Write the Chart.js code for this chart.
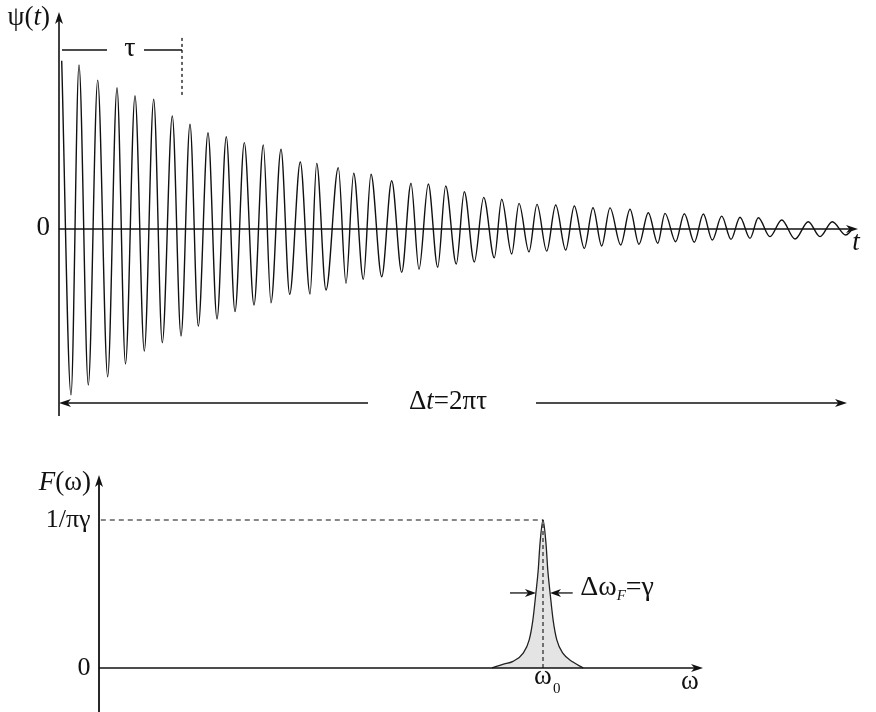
<!DOCTYPE html>
<html>
<head>
<meta charset="utf-8">
<title>Damped oscillation and its spectral line</title>
<script src="https://cdn.jsdelivr.net/npm/chart.js@4.4.1/dist/chart.umd.min.js"></script>
<style>
  html, body { margin: 0; padding: 0; background: #fff; }
  #wrap { position: relative; width: 876px; height: 712px; }
  canvas { position: absolute; left: 0; }
  #wave { top: 0; }
  #spectrum { top: 440px; }
</style>
</head>
<body>
<div id="wrap">
  <canvas id="wave" width="876" height="440"></canvas>
  <canvas id="spectrum" width="876" height="272"></canvas>
</div>
<script>
// psi(t): turning points of the damped oscillation, max / min in turn
const waveT = [
  0.17, 1.10, 1.90, 2.83, 3.77, 4.77, 5.70, 6.55,
  7.50, 8.43, 9.37, 10.23, 11.23, 12.10, 13.00, 13.83,
  14.80, 15.70, 16.63, 17.50, 18.43, 19.40, 20.33, 21.10,
  22.10, 22.97, 24.03, 25.00, 25.67, 26.60, 27.83, 28.60,
  29.37, 30.33, 31.10, 32.17, 33.17, 34.17, 35.10, 35.90,
  36.83, 37.77, 38.57, 39.63, 40.43, 41.43, 42.37, 43.43,
  44.17, 45.17, 45.90, 46.90, 47.70, 48.67, 49.57, 50.57,
  51.43, 52.43, 53.30, 54.17, 55.00, 56.07, 57.00, 57.90,
  58.83, 59.77, 60.50, 61.57, 62.43, 63.43, 64.33, 65.23,
  66.17, 67.10, 68.00, 69.00, 69.83, 71.00, 72.17, 73.50,
  74.83, 76.00, 77.23, 78.57, 79.10
];
const wavePsi = [
  0.990, -0.976, 0.965, -0.918, 0.876, -0.869, 0.831, -0.794,
  0.784, -0.718, 0.763, -0.669, 0.665, -0.629, 0.616, -0.571,
  0.566, -0.529, 0.543, -0.486, 0.508, -0.447, 0.494, -0.434,
  0.469, -0.384, 0.394, -0.382, 0.386, -0.359, 0.361, -0.319,
  0.328, -0.296, 0.322, -0.281, 0.284, -0.255, 0.269, -0.237,
  0.265, -0.225, 0.253, -0.206, 0.219, -0.194, 0.186, -0.169,
  0.175, -0.147, 0.151, -0.134, 0.145, -0.130, 0.141, -0.124,
  0.135, -0.114, 0.125, -0.100, 0.124, -0.094, 0.116, -0.090,
  0.096, -0.084, 0.092, -0.075, 0.090, -0.078, 0.088, -0.065,
  0.076, -0.061, 0.069, -0.055, 0.066, -0.045, 0.053, -0.059,
  0.043, -0.045, 0.043, -0.035, -0.012
];

// F(omega): the spectral line around omega0
const lineOmega = [65.5, 67.3, 69.0, 70.7, 71.7, 72.3, 72.8, 73.2, 73.5, 74.0,
                   74.5, 74.8, 75.2, 75.7, 76.3, 77.3, 79.0, 80.7];
const lineF = [0, 0.025, 0.045, 0.10, 0.19, 0.32, 0.50, 0.66, 0.84, 1.0,
               0.84, 0.66, 0.50, 0.32, 0.19, 0.10, 0.04, 0];
const omega0 = 74.0;

// labels on the vertical axes
const waveTickValues = [0];
const waveTickLabels = ['0'];
const specTickValues = [0, 1];
const specTickLabels = ['0', '1/πγ'];

const serif = '"Liberation Serif", "Times New Roman", serif';
const ink = '#111';

function arrowHead(ctx, x, y, angle, len, half) {
  ctx.save();
  ctx.translate(x, y);
  ctx.rotate(angle);
  ctx.beginPath();
  ctx.moveTo(0, 0);
  ctx.lineTo(-len, -half);
  ctx.lineTo(-len * 0.72, 0);
  ctx.lineTo(-len, half);
  ctx.closePath();
  ctx.fill();
  ctx.restore();
}

function segment(ctx, x1, y1, x2, y2) {
  ctx.beginPath();
  ctx.moveTo(x1, y1);
  ctx.lineTo(x2, y2);
  ctx.stroke();
}

// text made of pieces: {s, italic, size, dy}
function runs(ctx, parts, x, y, align, size) {
  const fontOf = p => (p.italic ? 'italic ' : '') + (p.size || size) + 'px ' + serif;
  let total = 0;
  parts.forEach(p => { ctx.font = fontOf(p); total += ctx.measureText(p.s).width; });
  let cx = align === 'right' ? x - total : align === 'center' ? x - total / 2 : x;
  ctx.textAlign = 'left';
  ctx.textBaseline = 'middle';
  parts.forEach(p => {
    ctx.font = fontOf(p);
    ctx.fillText(p.s, cx, y + (p.dy || 0));
    cx += ctx.measureText(p.s).width;
  });
}

const waveDecor = {
  id: 'waveDecor',
  afterDatasetsDraw(chart) {
    const { ctx, scales: { x, y } } = chart;
    const px = v => x.getPixelForValue(v);
    const py = v => y.getPixelForValue(v);
    ctx.save();
    ctx.strokeStyle = ink;
    ctx.fillStyle = ink;

    // axes
    ctx.lineWidth = 1.6;
    segment(ctx, px(-0.1), py(-1.1), px(-0.1), py(1.23));
    arrowHead(ctx, px(-0.1), py(1.276), -Math.PI / 2, 12, 4);
    ctx.lineWidth = 1.4;
    segment(ctx, px(-0.1), py(0), px(79), py(0));
    arrowHead(ctx, px(79.8), py(0), 0, 12, 4);

    // tau marker
    ctx.lineWidth = 1.3;
    segment(ctx, px(0.2), py(1.053), px(4.7), py(1.053));
    segment(ctx, px(8.4), py(1.053), px(12.2), py(1.053));
    ctx.setLineDash([3, 3]);
    segment(ctx, px(12.2), py(1.124), px(12.2), py(0.788));
    ctx.setLineDash([]);
    runs(ctx, [{ s: 'τ' }], px(7.0), py(1.053) - 1, 'center', 28);

    // duration arrow
    segment(ctx, px(30.8), py(-1.0235), px(0.5), py(-1.0235));
    arrowHead(ctx, px(-0.1), py(-1.0235), Math.PI, 12, 4);
    segment(ctx, px(47.6), py(-1.0235), px(78.0), py(-1.0235));
    arrowHead(ctx, px(78.7), py(-1.0235), 0, 12, 4);
    runs(ctx, [{ s: 'Δ' }, { s: 't', italic: true }, { s: '=2πτ' }], px(38.8), py(-1.0235) - 1, 'center', 27);

    // labels
    runs(ctx, [{ s: 'ψ(' }, { s: 't', italic: true }, { s: ')' }], px(-1.0), py(1.241), 'right', 27);
    waveTickValues.forEach((v, i) => runs(ctx, [{ s: waveTickLabels[i] }], px(-1.0), py(v) - 1, 'right', 27));
    runs(ctx, [{ s: 't', italic: true }], px(79.6), py(-0.082), 'center', 27);
    ctx.restore();
  }
};

const specDecor = {
  id: 'specDecor',
  afterDatasetsDraw(chart) {
    const { ctx, scales: { x, y } } = chart;
    const px = v => x.getPixelForValue(v);
    const py = v => y.getPixelForValue(v);
    ctx.save();
    ctx.strokeStyle = ink;
    ctx.fillStyle = ink;

    // dashed guides to the top of the line
    ctx.lineWidth = 1.1;
    ctx.setLineDash([5, 4]);
    segment(ctx, px(0.3), py(1), px(omega0), py(1));
    ctx.setLineDash([4, 3]);
    segment(ctx, px(omega0), py(0), px(omega0), py(1));
    ctx.setLineDash([]);

    // axes
    ctx.lineWidth = 1.8;
    segment(ctx, px(0), py(-0.3), px(0), py(1.26));
    arrowHead(ctx, px(0), py(1.304), -Math.PI / 2, 12, 4);
    ctx.lineWidth = 1.4;
    segment(ctx, px(0), py(0), px(99.5), py(0));
    arrowHead(ctx, px(100.67), py(0), 0, 12, 4);

    // width arrows
    ctx.lineWidth = 1.3;
    segment(ctx, px(68.5), py(0.507), px(72.2), py(0.507));
    arrowHead(ctx, px(72.83), py(0.507), 0, 11, 4);
    segment(ctx, px(78.95), py(0.507), px(75.8), py(0.507));
    arrowHead(ctx, px(75.17), py(0.507), Math.PI, 11, 4);
    runs(ctx, [{ s: 'Δω' }, { s: 'F', italic: true, size: 15, dy: 8 }, { s: '=γ' }], px(80.2), py(0.54), 'left', 28);

    // labels
    runs(ctx, [{ s: 'F', italic: true }, { s: '(ω)' }], px(-1.33), py(1.25), 'right', 27);
    specTickValues.forEach((v, i) => runs(ctx, [{ s: specTickLabels[i] }], px(-1.4), py(v), 'right', 26));
    runs(ctx, [{ s: 'ω' }], px(omega0), py(-0.059), 'center', 27);
    runs(ctx, [{ s: '0', size: 15 }], px(omega0 + 2.3), py(-0.145), 'center', 15);
    runs(ctx, [{ s: 'ω' }], px(98.5), py(-0.095), 'center', 27);
    ctx.restore();
  }
};

new Chart(document.getElementById('wave'), {
  type: 'line',
  data: {
    datasets: [{
      data: waveT.map((t, i) => ({ x: t, y: wavePsi[i] })),
      borderColor: ink,
      borderWidth: 1.4,
      pointRadius: 0,
      cubicInterpolationMode: 'monotone',
      fill: false
    }]
  },
  options: {
    responsive: false,
    animation: false,
    devicePixelRatio: 1,
    layout: { padding: { left: 60, right: 16, top: 8, bottom: 7 } },
    scales: {
      x: { type: 'linear', display: false, min: 0, max: 80 },
      y: { type: 'linear', display: false, min: -1.2, max: 1.3 }
    },
    plugins: { legend: { display: false }, tooltip: { enabled: false } }
  },
  plugins: [waveDecor]
});

new Chart(document.getElementById('spectrum'), {
  type: 'line',
  data: {
    datasets: [{
      data: lineOmega.map((w, i) => ({ x: w, y: lineF[i] })),
      borderColor: '#222',
      borderWidth: 1.3,
      backgroundColor: '#e4e4e4',
      pointRadius: 0,
      cubicInterpolationMode: 'monotone',
      fill: 'origin'
    }]
  },
  options: {
    responsive: false,
    animation: false,
    devicePixelRatio: 1,
    layout: { padding: { left: 99, right: 57, top: 20.8, bottom: 1.1 } },
    scales: {
      x: { type: 'linear', display: false, min: 0, max: 120 },
      y: { type: 'linear', display: false, min: -0.29, max: 1.4 }
    },
    plugins: { legend: { display: false }, tooltip: { enabled: false } }
  },
  plugins: [specDecor]
});
</script>
</body>
</html>
